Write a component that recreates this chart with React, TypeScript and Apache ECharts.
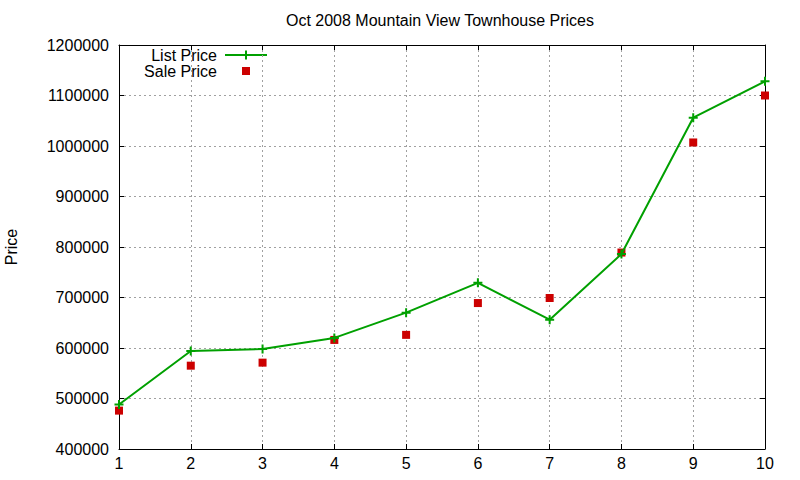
import React, { useEffect, useRef } from "react";
import * as echarts from "echarts";

const xValues = [1, 2, 3, 4, 5, 6, 7, 8, 9, 10];
const listPrice = [488000, 594000, 598000, 620000, 670000, 729000, 656000, 786000, 1056000, 1128000];
const salePrice = [476000, 565000, 571000, 616000, 626000, 689000, 699000, 789000, 1007000, 1100000];

const TITLE = "Oct 2008 Mountain View Townhouse Prices";
const Y_NAME = "Price";
const LIST_NAME = "List Price";
const SALE_NAME = "Sale Price";

const GREEN = "#00a000";
const RED = "#cc0000";
const FONT = "'Liberation Sans', Arial, sans-serif";
const PLUS = "path://M0,3.5H9V5.5H0ZM3.5,0H5.5V9H3.5Z";

export default function App() {
  const ref = useRef<HTMLDivElement>(null);
  useEffect(() => {
    if (!ref.current) return;
    const chart = echarts.init(ref.current, undefined, { renderer: "svg" });
    const tickStyle = { show: true, inside: true, length: 5, lineStyle: { color: "#000", width: 1 } };
    const axisLine = { show: true, onZero: false, lineStyle: { color: "#000", width: 1 } };
    const split = { show: true, lineStyle: { color: "#a0a0a0", width: 1, type: [2, 3] as any } };
    chart.setOption({
      animation: false,
      backgroundColor: "#fff",
      textStyle: { fontFamily: FONT },
      title: {
        text: TITLE,
        left: 440,
        top: 12,
        padding: 0,
        textAlign: "center",
        textStyle: { fontFamily: FONT, fontSize: 16, fontWeight: "normal", color: "#000" },
      },
      grid: { left: 119, right: 35, top: 45, bottom: 31, containLabel: false, outerBoundsMode: "none" },
      xAxis: [
        {
          type: "value",
          min: 1,
          max: 10,
          interval: 1,
          position: "bottom",
          axisLine,
          axisTick: tickStyle,
          splitLine: split,
          axisLabel: { fontFamily: FONT, fontSize: 16, color: "#000", margin: 6 },
        },
        {
          type: "value",
          min: 1,
          max: 10,
          interval: 1,
          position: "top",
          axisLine,
          axisTick: tickStyle,
          splitLine: { show: false },
          axisLabel: { show: false },
        },
      ],
      yAxis: [
        {
          type: "value",
          min: 400000,
          max: 1200000,
          interval: 100000,
          position: "left",
          name: Y_NAME,
          nameLocation: "middle",
          nameRotate: 90,
          nameGap: 100,
          nameTextStyle: { fontFamily: FONT, fontSize: 16, color: "#000" },
          axisLine,
          axisTick: tickStyle,
          splitLine: split,
          axisLabel: {
            fontFamily: FONT,
            fontSize: 16,
            color: "#000",
            margin: 10,
            formatter: (v: number) => String(v),
          },
        },
        {
          type: "value",
          min: 400000,
          max: 1200000,
          interval: 100000,
          position: "right",
          axisLine,
          axisTick: tickStyle,
          splitLine: { show: false },
          axisLabel: { show: false },
        },
      ],
      series: [
        {
          name: LIST_NAME,
          type: "line",
          data: xValues.map((x, i) => [x, listPrice[i]]),
          symbol: PLUS,
          symbolSize: 9,
          showSymbol: true,
          lineStyle: { color: GREEN, width: 2 },
          itemStyle: { color: GREEN, opacity: 1 },
          clip: false,
        },
        {
          name: SALE_NAME,
          type: "scatter",
          data: xValues.map((x, i) => [x, salePrice[i]]),
          symbol: "rect",
          symbolSize: 8,
          itemStyle: { color: RED, opacity: 1 },
          clip: false,
        },
      ],
      graphic: [
        {
          type: "text",
          x: 217,
          y: 55,
          style: { text: LIST_NAME, font: `16px ${FONT}`, fill: "#000", align: "right", verticalAlign: "middle" },
        },
        {
          type: "line",
          shape: { x1: 225, y1: 55, x2: 267, y2: 55 },
          style: { stroke: GREEN, lineWidth: 2 },
        },
        {
          type: "rect",
          shape: { x: 241.5, y: 54, width: 9, height: 2 },
          style: { fill: GREEN },
        },
        {
          type: "rect",
          shape: { x: 245, y: 50.5, width: 2, height: 9 },
          style: { fill: GREEN },
        },
        {
          type: "text",
          x: 217,
          y: 71,
          style: { text: SALE_NAME, font: `16px ${FONT}`, fill: "#000", align: "right", verticalAlign: "middle" },
        },
        {
          type: "rect",
          shape: { x: 242, y: 67, width: 8, height: 8 },
          style: { fill: RED },
        },
      ],
    });
    return () => chart.dispose();
  }, []);
  return <div ref={ref} style={{ width: 800, height: 480, position: "fixed", left: 0, top: 0 }} />;
}
